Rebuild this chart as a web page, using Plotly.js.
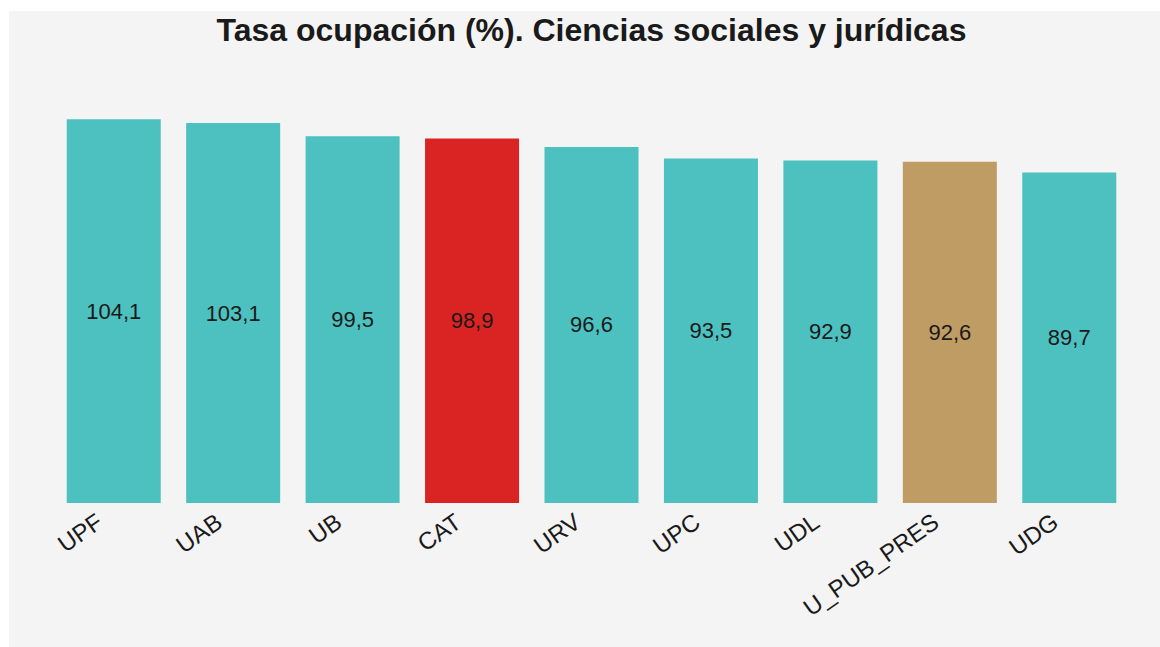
<!DOCTYPE html>
<html>
<head>
<meta charset="utf-8">
<script src="https://cdn.plot.ly/plotly-3.0.1.min.js"></script>
<style>
html, body { margin: 0; padding: 0; background: #ffffff; }
#chart { position: absolute; left: 9px; top: 11px; width: 1151px; height: 636px; }
</style>
</head>
<body>
<div id="chart"></div>
<script>
const categories = ["UPF", "UAB", "UB", "CAT", "URV", "UPC", "UDL", "U_PUB_PRES", "UDG"];
const values = [104.1, 103.1, 99.5, 98.9, 96.6, 93.5, 92.9, 92.6, 89.7];
const barColors = ["#4dc1bf", "#4dc1bf", "#4dc1bf", "#da2323", "#4dc1bf", "#4dc1bf", "#4dc1bf", "#bf9c64", "#4dc1bf"];
const labels = values.map(v => v.toFixed(1).replace('.', ','));

const trace = {
  type: 'bar',
  x: categories,
  y: values,
  text: labels,
  textposition: 'inside',
  insidetextanchor: 'middle',
  textangle: 0,
  textfont: { family: 'Liberation Sans, Arial, sans-serif', size: 22, color: '#1a1a1a' },
  marker: { color: barColors },
  hoverinfo: 'x+y'
};

const layout = {
  width: 1151,
  height: 636,
  paper_bgcolor: '#f4f4f4',
  plot_bgcolor: '#f4f4f4',
  margin: { l: 45, r: 31, t: 88, b: 144 },
  bargap: 0.213,
  showlegend: false,
  title: {
    text: '<b>Tasa ocupación (%). Ciencias sociales y jurídicas</b>',
    x: 0.5, xref: 'paper', xanchor: 'center',
    y: 0.970, yref: 'container', yanchor: 'middle',
    font: { family: 'Liberation Sans, Arial, sans-serif', size: 32, color: '#1a1a1a' }
  },
  xaxis: {
    type: 'category',
    tickangle: -35,
    ticklabelshift: -16,
    tickfont: { family: 'Liberation Sans, Arial, sans-serif', size: 24, color: '#1a1a1a' },
    showgrid: false, zeroline: false, showline: false, ticks: ''
  },
  yaxis: {
    range: [0, 104.1 * 1.053],
    visible: false,
    showgrid: false, zeroline: false
  },
  font: { family: 'Liberation Sans, Arial, sans-serif' }
};

Plotly.newPlot('chart', [trace], layout, { displayModeBar: false, staticPlot: true });
</script>
</body>
</html>
